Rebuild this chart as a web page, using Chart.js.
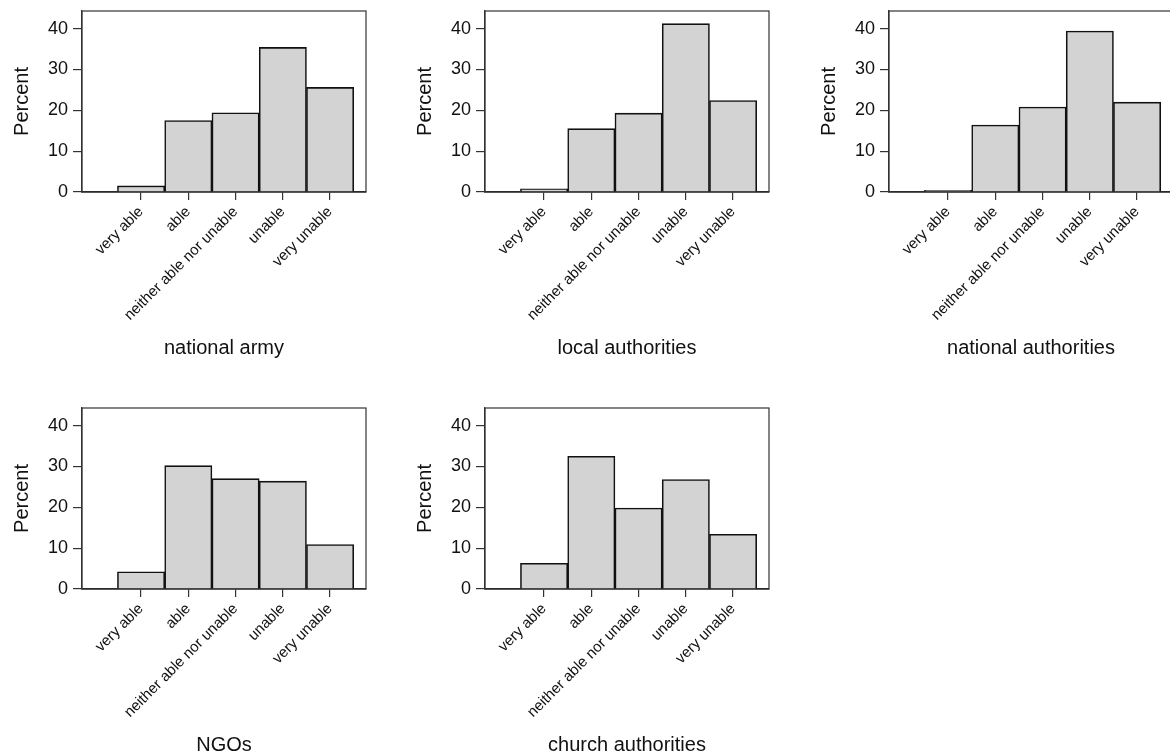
<!DOCTYPE html>
<html>
<head>
<meta charset="utf-8">
<script src="https://cdn.jsdelivr.net/npm/chart.js@4.4.0/dist/chart.umd.min.js"></script>
<style>
  html, body { margin: 0; padding: 0; background: #fff; }
  body { width: 1170px; height: 755px; overflow: hidden; position: relative; }
  canvas { position: absolute; }
</style>
</head>
<body>
<canvas id="c1"></canvas>
<canvas id="c2"></canvas>
<canvas id="c3"></canvas>
<canvas id="c4"></canvas>
<canvas id="c5"></canvas>
<script>
// answer categories, same on every panel
const categories = ['very able', 'able', 'neither able nor unable', 'unable', 'very unable'];

// percent per category
const nationalArmy = [1.5, 17.5, 19.4, 35.4, 25.6];
const localAuthorities = [0.8, 15.5, 19.3, 41.2, 22.4];
const nationalAuthorities = [0.4, 16.4, 20.8, 39.4, 22.0];
const ngos = [4.2, 30.2, 27.0, 26.4, 10.9];
const churchAuthorities = [6.3, 32.5, 19.8, 26.8, 13.4];

const yTicks = [0, 10, 20, 30, 40];
const yMax = 44.3;
const xMin = -1.25, xMax = 4.76;

const FONT = "'Liberation Sans', Arial, Helvetica, sans-serif";

const panels = [
    { id: 'c1', title: 'national army', values: nationalArmy, left: 0, top: 0, h: 364 },
    { id: 'c2', title: 'local authorities', values: localAuthorities, left: 403, top: 0, h: 364 },
    { id: 'c3', title: 'national authorities', values: nationalAuthorities, left: 807, top: 0, h: 364 },
    { id: 'c4', title: 'NGOs', values: ngos, left: 0, top: 397, h: 364 },
    { id: 'c5', title: 'church authorities', values: churchAuthorities, left: 403, top: 397, h: 364 }
];

// box round the plot area
const framePlugin = {
    id: 'frame',
    afterDatasetsDraw(chart) {
        const { ctx, chartArea: a } = chart;
        ctx.save();
        ctx.strokeStyle = '#333';
        ctx.lineWidth = 1.2;
        ctx.strokeRect(a.left, a.top, a.right - a.left, a.bottom - a.top);
        ctx.restore();
    }
};

function drawPanel(p) {
    const cv = document.getElementById(p.id);
    cv.width = 390;
    cv.height = p.h;
    cv.style.left = p.left + 'px';
    cv.style.top = p.top + 'px';

    return new Chart(cv, {
        type: 'bar',
        data: {
            datasets: [{
                data: p.values.map((v, i) => ({ x: i, y: v })),
                backgroundColor: '#d3d3d3',
                borderColor: '#111',
                borderWidth: 1.6,
                barPercentage: 1,
                categoryPercentage: 1
            }]
        },
        options: {
            responsive: false,
            animation: false,
            devicePixelRatio: 1,
            layout: { padding: { left: 0, top: 11, right: 24, bottom: 0 } },
            plugins: { legend: { display: false }, tooltip: { enabled: false } },
            scales: {
                x: {
                    type: 'linear',
                    min: xMin,
                    max: xMax,
                    offset: false,
                    afterBuildTicks: s => { s.ticks = categories.map((c, i) => ({ value: i })); },
                    afterFit: s => { s.height = p.h - 11 - 181; s.paddingLeft = 0; s.paddingRight = 0; },
                    ticks: {
                        autoSkip: false, minRotation: 45, maxRotation: 45, padding: 3,
                        color: '#111', font: { family: FONT, size: 15 },
                        callback: v => categories[v]
                    },
                    grid: { offset: false, drawOnChartArea: false, tickLength: 8, color: '#333', lineWidth: 1.2 },
                    border: { color: '#222', width: 1.5 },
                    title: {
                        display: true, text: p.title, color: '#111',
                        font: { family: FONT, size: 20 }, padding: { top: 0, bottom: 4 }
                    }
                },
                y: {
                    min: 0,
                    max: yMax,
                    afterBuildTicks: s => { s.ticks = yTicks.map(v => ({ value: v })); },
                    afterFit: s => { s.width = 82; s.paddingTop = 0; s.paddingBottom = 0; },
                    ticks: { padding: 5, color: '#111', font: { family: FONT, size: 18 } },
                    grid: { drawOnChartArea: false, tickLength: 9, color: '#333', lineWidth: 1.2 },
                    border: { color: '#333', width: 1.2 },
                    title: {
                        display: true, text: 'Percent', color: '#111',
                        font: { family: FONT, size: 20 }, padding: { top: 10, bottom: 0 }
                    }
                }
            }
        },
        plugins: [framePlugin]
    });
}

panels.forEach(drawPanel);
</script>
</body>
</html>
